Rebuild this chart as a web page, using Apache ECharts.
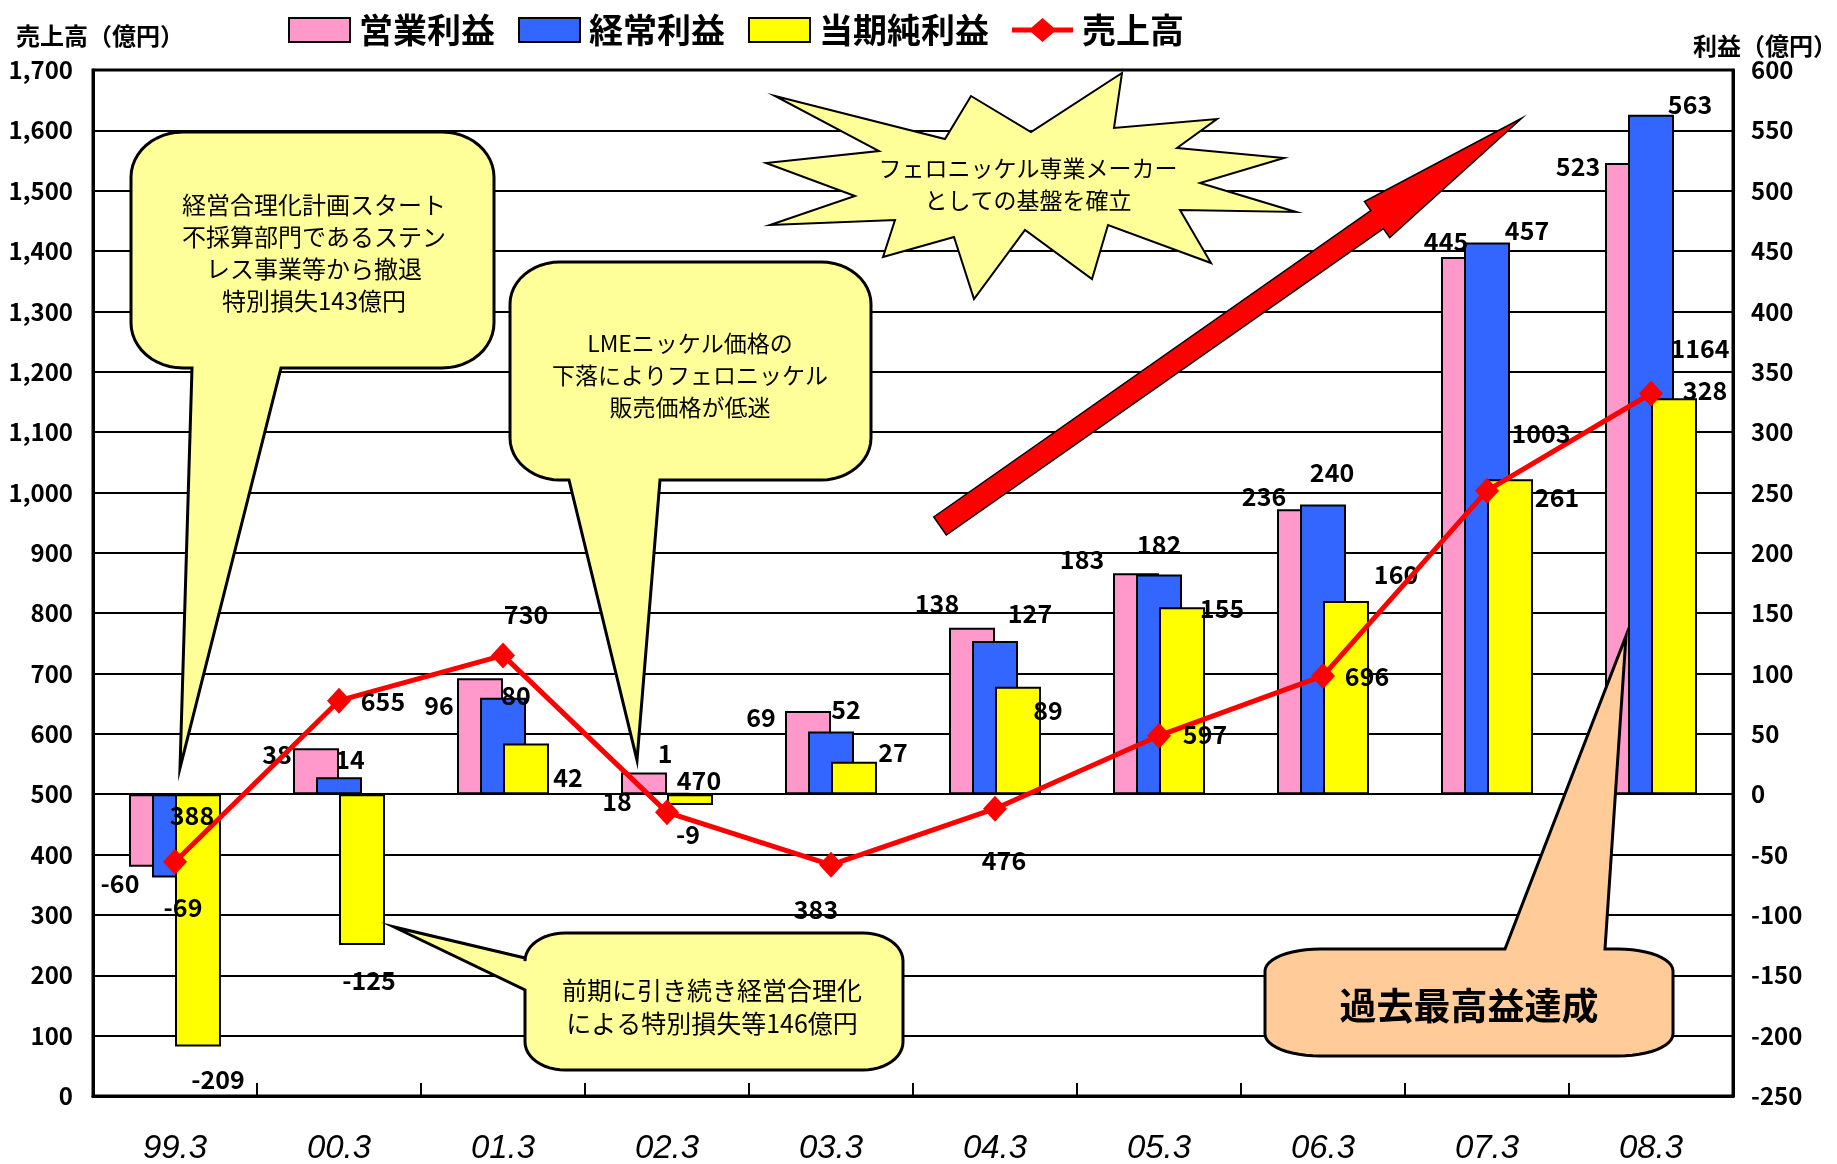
<!DOCTYPE html>
<html><head><meta charset="utf-8">
<script src="https://cdn.jsdelivr.net/npm/echarts@6/dist/echarts.min.js"></script>
<style>html,body{margin:0;padding:0;background:#fff}#chart{width:1837px;height:1164px}</style>
</head><body><div id="chart"></div>
<script>
// ---- data ----
const categories = ['99.3','00.3','01.3','02.3','03.3','04.3','05.3','06.3','07.3','08.3'];
const operatingProfit = [-60, 38, 96, 18, 69, 138, 183, 236, 445, 523];   // 営業利益
const ordinaryProfit  = [-69, 14, 80, 1, 52, 127, 182, 240, 457, 563];    // 経常利益
const netProfit       = [-209, -125, 42, -9, 27, 89, 155, 160, 261, 328]; // 当期純利益
const sales           = [388, 655, 730, 470, 383, 476, 597, 696, 1003, 1164]; // 売上高
const salesAxis  = {min: 0, max: 1700, interval: 100};
const profitAxis = {min: -250, max: 600, interval: 50};

// ---- label placement (layout only) ----
const labelOffsets = {
  op:    [[-32,17],[-39,6],[-41,27],[-27,29],[-47,7],[-35,-24],[-54,-14],[-36,-13],[-18,-16],[-50,4]],
  ord:   [[8,30],[11,-18],[13,-2],[-2,-39],[15,-22],[35,-27],[0,-30],[9,-32],[40,-12],[39,-10]],
  net:   [[20,33],[7,35],[42,34],[-2,29],[39,-9],[30,24],[40,1],[50,-27],[47,18],[31,-8]],
  sales: [[17,-46],[44,1],[23,-41],[32,-32],[-15,45],[9,52],[46,-1],[44,1],[54,-57],[49,-45]]
};

const FONT = '"Noto Sans CJK JP", "Noto Sans", sans-serif';
const chart = echarts.init(document.getElementById('chart'), null, {renderer: 'canvas', width: 1837, height: 1164});

const valueLabel = {show: true, distance: 0, align: 'center', verticalAlign: 'middle',
  color: '#000', fontSize: 25, fontWeight: 'bold', fontFamily: FONT};

function barItems(vals, offs) {
  return vals.map((v, i) => ({value: v, label: {position: v >= 0 ? 'top' : 'bottom', offset: offs[i]}}));
}

// ---- annotation shapes ----
function calloutPoints(x0, y0, x1, y1, rx, ry, side, a, b, tip) {
  const pts = [], N = 12;
  function arc(cx, cy, s, e) {
    for (let i = 0; i <= N; i++) { const t = s + (e - s) * i / N; pts.push([cx + rx * Math.cos(t), cy + ry * Math.sin(t)]); }
  }
  arc(x0 + rx, y0 + ry, Math.PI, 1.5 * Math.PI);
  if (side === 'top') pts.push([a, y0], tip, [b, y0]);
  arc(x1 - rx, y0 + ry, 1.5 * Math.PI, 2 * Math.PI);
  arc(x1 - rx, y1 - ry, 0, 0.5 * Math.PI);
  if (side === 'bottom') pts.push([a, y1], tip, [b, y1]);
  arc(x0 + rx, y1 - ry, 0.5 * Math.PI, Math.PI);
  if (side === 'left') pts.push([x0, a], tip, [x0, b]);
  return pts;
}
function arrowPoints(tail, tip, halfShaft, halfHead, headLen) {
  const dx = tip[0] - tail[0], dy = tip[1] - tail[1], L = Math.hypot(dx, dy);
  const u = [dx / L, dy / L], n = [-u[1], u[0]];
  const hb = [tip[0] - u[0] * headLen, tip[1] - u[1] * headLen];
  const P = (p, k) => [p[0] + n[0] * k, p[1] + n[1] * k];
  return [P(tail, -halfShaft), P(hb, -halfShaft), P(hb, -halfHead), tip, P(hb, halfHead), P(hb, halfShaft), P(tail, halfShaft)];
}
const starPts = [[775,96],[945,139],[971,96],[1031,132],[1122,73],[1114,128],[1217,119],[1177,148],[1284,158],[1200,183],
  [1296,212],[1180,210],[1211,263],[1108,225],[1092,279],[1025,230],[974,299],[954,237],[883,257],[895,220],[770,225],
  [855,196],[766,163],[879,151]];

const yellowNote = {fill: '#FFFF99', stroke: '#000', lineWidth: 3};
const noteText = (x, y, text, size, lh, extra) => ({type: 'text', z: 102, x: x, y: y,
  style: Object.assign({text: text, align: 'center', verticalAlign: 'middle', fontSize: size, lineHeight: lh,
    fontFamily: FONT, fill: '#000'}, extra || {})});

const graphics = [
  {type: 'polygon', z: 100, shape: {points: starPts}, style: {fill: '#FFFF99', stroke: '#000', lineWidth: 2}},
  noteText(1028, 184, 'フェロニッケル専業メーカー\nとしての基盤を確立', 23, 32),
  {type: 'polygon', z: 100, shape: {points: arrowPoints([940, 526], [1522, 118], 11, 22, 177)},
    style: {fill: '#FF0000', stroke: '#000', lineWidth: 1.5}},
  {type: 'polygon', z: 100, shape: {points: calloutPoints(131, 132, 494, 368, 52, 45, 'bottom', 281, 192, [180, 768])}, style: yellowNote},
  noteText(314, 253, '経営合理化計画スタート\n不採算部門であるステン\nレス事業等から撤退\n特別損失143億円', 24, 32),
  {type: 'polygon', z: 100, shape: {points: calloutPoints(510, 262, 871, 480, 50, 42, 'bottom', 660, 569, [637, 760])}, style: yellowNote},
  noteText(690, 375, 'LMEニッケル価格の\n下落によりフェロニッケル\n販売価格が低迷', 23, 32),
  {type: 'polygon', z: 100, shape: {points: calloutPoints(525, 933, 903, 1070, 40, 28, 'left', 990, 958, [394, 927])}, style: yellowNote},
  noteText(712, 1007, '前期に引き続き経営合理化\nによる特別損失等146億円', 25, 33),
  {type: 'polygon', z: 100, shape: {points: calloutPoints(1265, 949, 1673, 1056, 55, 22, 'top', 1505, 1605, [1626, 636])},
    style: {fill: '#FFCC99', stroke: '#000', lineWidth: 3}},
  noteText(1469, 1006, '過去最高益達成', 37, 40, {fontWeight: 'bold'})
];

const lineLegendIcon = 'path://M0,9.5L19.5,9.5L30.5,0L41.5,9.5L61,9.5L61,14.5L41.5,14.5L30.5,24L19.5,14.5L0,14.5Z';

const option = {
  backgroundColor: '#fff',
  animation: false,
  legend: {
    left: 283, top: 8, itemWidth: 61, itemHeight: 24, itemGap: 23,
    textStyle: {fontSize: 34, fontWeight: 'bold', color: '#000', fontFamily: FONT, padding: [0, 0, 0, 4]},
    data: [{name: '営業利益', icon: 'rect'}, {name: '経常利益', icon: 'rect'}, {name: '当期純利益', icon: 'rect'},
           {name: '売上高', icon: lineLegendIcon}]
  },
  grid: {left: 93, right: 104, top: 70, bottom: 68, show: true, borderColor: '#000', borderWidth: 3,
         containLabel: false, outerBoundsMode: 'none'},
  xAxis: {
    type: 'category', data: categories, boundaryGap: true,
    axisLine: {lineStyle: {color: '#000', width: 3}},
    axisTick: {show: true, inside: true, length: 13, lineStyle: {color: '#000', width: 2}},
    axisLabel: {fontSize: 33, fontStyle: 'italic', color: '#000', margin: 36, fontFamily: '"Liberation Sans", sans-serif'}
  },
  yAxis: [
    {type: 'value', position: 'left', min: salesAxis.min, max: salesAxis.max, interval: salesAxis.interval,
     name: '売上高（億円）', nameLocation: 'end', nameGap: 22,
     nameTextStyle: {fontSize: 24, fontWeight: 'bold', color: '#000', fontFamily: FONT, align: 'center', verticalAlign: 'bottom', padding: [0, 0, 0, 14]},
     axisLine: {show: true, lineStyle: {color: '#000', width: 3}}, axisTick: {show: false},
     axisLabel: {margin: 20, fontSize: 24, fontWeight: 'bold', color: '#000', fontFamily: FONT,
       formatter: v => v.toLocaleString('en-US')},
     splitLine: {show: true, lineStyle: {color: '#000', width: 2}}},
    {type: 'value', position: 'right', min: profitAxis.min, max: profitAxis.max, interval: profitAxis.interval,
     name: '利益（億円）', nameLocation: 'end', nameGap: 12,
     nameTextStyle: {fontSize: 24, fontWeight: 'bold', color: '#000', fontFamily: FONT, align: 'center', verticalAlign: 'bottom', padding: [0, 0, 0, 64]},
     axisLine: {show: true, lineStyle: {color: '#000', width: 3}}, axisTick: {show: false},
     axisLabel: {margin: 18, fontSize: 24, fontWeight: 'bold', color: '#000', fontFamily: FONT},
     splitLine: {show: false}}
  ],
  series: [
    {name: '営業利益', type: 'bar', yAxisIndex: 1, barWidth: 46, barGap: '-50%',
     itemStyle: {color: '#FF99CC', borderColor: '#000', borderWidth: 2}, label: valueLabel,
     data: barItems(operatingProfit, labelOffsets.op)},
    {name: '経常利益', type: 'bar', yAxisIndex: 1, barWidth: 46, barGap: '-50%',
     itemStyle: {color: '#3366FF', borderColor: '#000', borderWidth: 2}, label: valueLabel,
     data: barItems(ordinaryProfit, labelOffsets.ord)},
    {name: '当期純利益', type: 'bar', yAxisIndex: 1, barWidth: 46, barGap: '-50%',
     itemStyle: {color: '#FFFF00', borderColor: '#000', borderWidth: 2}, label: valueLabel,
     data: barItems(netProfit, labelOffsets.net)},
    {name: '売上高', type: 'line', yAxisIndex: 0, z: 5, symbol: 'diamond', symbolSize: [24, 26],
     lineStyle: {color: '#FF0000', width: 5}, itemStyle: {color: '#FF0000'},
     label: Object.assign({}, valueLabel, {position: 'inside'}),
     data: sales.map((v, i) => ({value: v, label: {offset: labelOffsets.sales[i]}}))}
  ],
  graphic: graphics
};
chart.setOption(option);
</script>
</body></html>
